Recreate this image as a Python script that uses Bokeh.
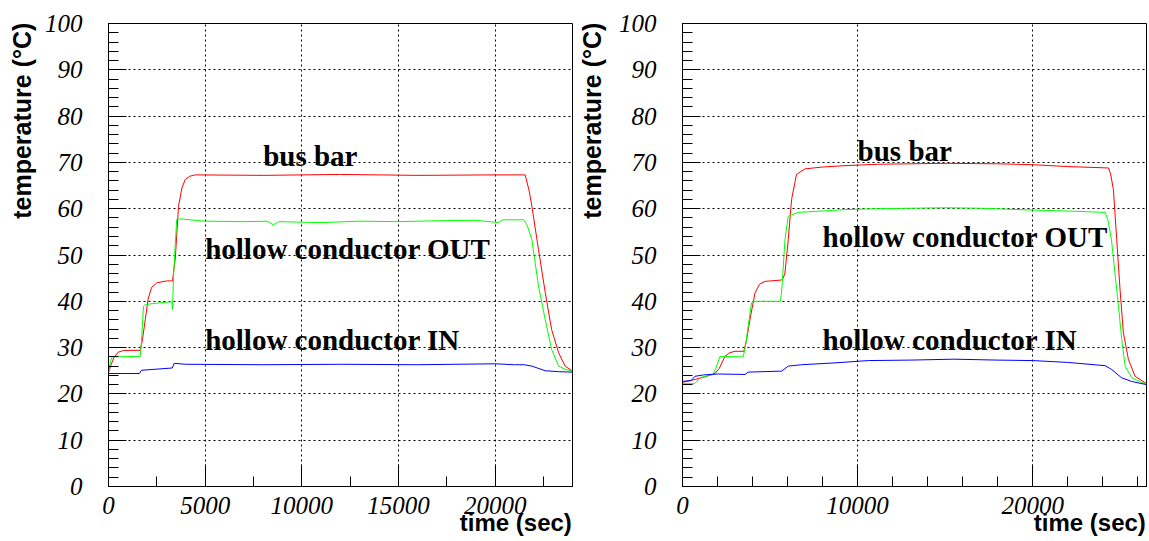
from bokeh.plotting import figure
from bokeh.layouts import row
from bokeh.models import Range1d, SingleIntervalTicker, Label
from bokeh.embed import file_html
from bokeh.resources import INLINE

# ---------------- data: left panel ----------------
L_red_t = [0, 150, 300, 500, 800, 1640, 1750, 1900, 2050, 2230, 2500, 3000, 3310, 3450, 3620, 3800, 3970, 4200, 4480,
           8000, 12000, 16000, 20000, 21550, 21750, 21900, 22240, 22590, 22920, 23280, 23620, 24000]
L_red_v = [24.6, 26.5, 28.0, 29.0, 29.4, 29.4, 31.5, 36.0, 40.5, 43.0, 44.0, 44.4, 44.4, 49.0, 60.5, 64.5, 66.3, 67.0, 67.3,
           67.2, 67.4, 67.2, 67.3, 67.3, 64.0, 60.5, 51.2, 41.9, 33.9, 28.9, 26.0, 24.9]

L_grn_t = [0, 100, 200, 1640, 1700, 1810, 1900, 2500, 3000, 3280, 3310, 3360, 3450, 3530, 3700, 5000, 7000, 8200, 8530,
           8800, 11000, 13000, 15000, 17000, 19000, 20170, 20400, 21470, 21650, 21900, 22240, 22590, 22920, 23280, 23620, 24000]
L_grn_v = [24.6, 27.0, 28.0, 28.1, 31.0, 38.9, 39.3, 39.6, 39.8, 39.9, 38.2, 45.0, 52.0, 57.7, 57.8, 57.3, 57.2, 57.3, 56.5,
           57.2, 57.0, 57.3, 57.2, 57.4, 57.5, 57.0, 57.6, 57.6, 56.5, 53.3, 43.3, 36.0, 29.6, 26.0, 25.3, 24.9]

L_blu_t = [0, 1600, 1700, 3300, 3400, 4000, 8000, 12000, 16000, 20000, 21000, 21500, 21900, 22590, 23280, 24000]
L_blu_v = [24.4, 24.4, 25.1, 25.6, 26.6, 26.4, 26.3, 26.4, 26.3, 26.5, 26.3, 26.3, 26.0, 25.0, 24.8, 24.7]

# ---------------- data: right panel ----------------
R_red_t = [0, 700, 1200, 1850, 2100, 2420, 2700, 3000, 3500, 3650, 3850, 4140, 4400, 4710, 5660, 5750, 5850, 6040, 6230,
           6510, 6990, 8000, 9280, 11180, 15000, 18000, 20000, 22000, 24330, 24450, 24610, 24800, 24990, 25180, 25470,
           25850, 26420, 26500]
R_red_v = [22.5, 23.1, 23.6, 24.4, 25.5, 28.1, 28.9, 29.2, 29.2, 31.5, 36.0, 41.8, 43.7, 44.3, 44.6, 45.0, 46.1, 53.3, 62.0,
           67.4, 68.6, 69.0, 69.3, 69.6, 69.8, 69.7, 69.5, 69.1, 68.8, 67.5, 64.1, 53.3, 42.5, 33.2, 27.4,
           23.8, 22.4, 22.3]

R_grn_t = [0, 700, 1000, 1750, 1900, 2140, 3470, 3600, 3750, 3940, 4100, 5600, 5700, 5850, 6040, 6610, 9280, 11180, 15000,
           17000, 20000, 22000, 24140, 24300, 24500, 24700, 24900, 25090, 25280, 25660, 26210, 26500]
R_grn_v = [22.2, 22.2, 23.5, 24.2, 25.5, 28.1, 28.0, 30.5, 34.6, 39.7, 40.0, 40.0, 44.0, 53.3, 58.4, 59.2, 59.8, 60.0, 60.2,
           60.1, 59.7, 59.5, 59.2, 57.5, 53.3, 46.1, 38.9, 31.7, 26.0, 23.5, 22.5, 22.2]

R_blu_t = [0, 500, 710, 1200, 2040, 3570, 3750, 5470, 5660, 6040, 6800, 8710, 10610, 13000, 15500, 18000, 20000, 22000,
           24140, 24500, 25070, 25640, 26500]
R_blu_v = [22.7, 22.9, 23.8, 24.1, 24.3, 24.2, 24.7, 24.9, 24.9, 26.0, 26.3, 26.7, 27.2, 27.3, 27.5, 27.3, 27.2, 26.8,
           26.1, 25.3, 23.5, 22.7, 22.0]

labels = ["bus bar", "hollow conductor OUT", "hollow conductor IN"]
L_label_x = [8000, 5000, 5000]
L_label_y = [71.3, 51.3, 31.6]
R_label_x = [10000, 8000, 8000]
R_label_y = [72.5, 53.9, 31.6]

x_title = "time (sec)"
y_title = "temperature (\u00b0C)"

SERIF = "Liberation Serif"
SANS = "Liberation Sans"
NBSP = "\u00a0"


def make_panel(xmax, major, nminor, series, lab_x, lab_y, width, border_left, border_right, ytitle_standoff):
    p = figure(width=width, height=540, output_backend="svg", toolbar_location=None,
               x_range=Range1d(0, xmax), y_range=Range1d(0, 100))
    p.min_border_left = border_left
    p.min_border_right = border_right
    p.min_border_top = 23
    p.min_border_bottom = 54
    p.outline_line_color = "black"
    p.outline_line_width = 1
    p.background_fill_color = "white"
    p.border_fill_color = "white"

    p.xaxis.ticker = SingleIntervalTicker(interval=major, num_minor_ticks=nminor)
    p.yaxis.ticker = SingleIntervalTicker(interval=10, num_minor_ticks=5)

    for ax in (p.xaxis[0], p.yaxis[0]):
        ax.axis_line_color = "black"
        ax.major_tick_line_color = "black"
        ax.minor_tick_line_color = "black"
        ax.major_tick_out = 0
        ax.minor_tick_out = 0
        ax.minor_tick_in = 10
        ax.major_label_text_font = SERIF
        ax.major_label_text_font_style = "italic"
        ax.major_label_text_font_size = "25px"
        ax.major_label_text_color = "black"
        ax.axis_label_text_font = SANS
        ax.axis_label_text_font_style = "bold"
        ax.axis_label_text_color = "black"
    p.xaxis[0].axis_label_text_font_size = "24px"
    p.yaxis[0].axis_label_text_font_size = "25px"
    p.xaxis[0].major_tick_in = 22
    p.yaxis[0].major_tick_in = 18
    p.xaxis[0].major_label_standoff = 10
    p.yaxis[0].major_label_standoff = 26

    # axis titles sit at the far end of each axis (ROOT style); the label is
    # centred on the axis end, so it is padded with an equal-width blank tail
    p.xaxis[0].axis_label = x_title + NBSP * 17
    p.yaxis[0].axis_label = y_title + NBSP * 28
    p.xaxis[0].axis_label_standoff = -8
    p.yaxis[0].axis_label_standoff = ytitle_standoff
    p.xaxis[0].axis_label_align = "end"
    p.yaxis[0].axis_label_align = "end"

    for g in (p.xgrid[0], p.ygrid[0]):
        g.grid_line_color = "black"
        g.grid_line_dash = "2 3"
        g.grid_line_width = 1

    for (t, v, c) in series:
        p.line(t, v, line_color=c, line_width=1)

    for txt, lx, ly in zip(labels, lab_x, lab_y):
        p.add_layout(Label(x=lx, y=ly, text=txt, text_font=SERIF, text_font_style="bold",
                           text_font_size="29px", text_color="black", text_baseline="alphabetic"))
    return p


left = make_panel(24000, 5000, 2,
                  [(L_red_t, L_red_v, "#ff0000"), (L_grn_t, L_grn_v, "#00ff00"), (L_blu_t, L_blu_v, "#0000ff")],
                  L_label_x, L_label_y, 574, 108, 2, 6)
right = make_panel(26500, 10000, 5,
                   [(R_red_t, R_red_v, "#ff0000"), (R_grn_t, R_grn_v, "#00ff00"), (R_blu_t, R_blu_v, "#0000ff")],
                   R_label_x, R_label_y, 573, 108, 1, 10)

layout = row(left, right)
open("out.html", "w").write(file_html(layout, INLINE))
